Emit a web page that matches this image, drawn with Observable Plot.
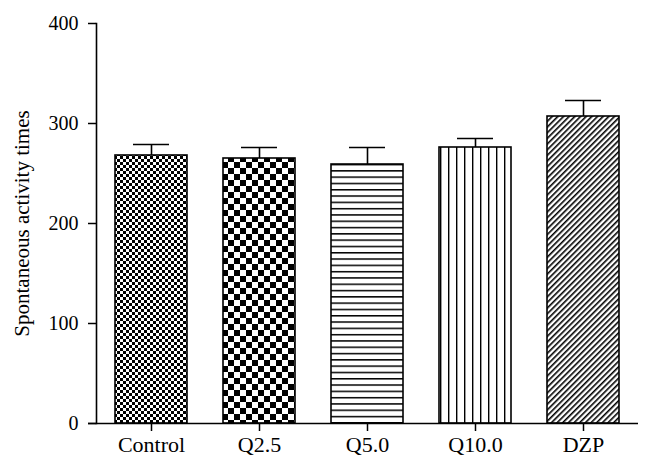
<!DOCTYPE html>
<html><head><meta charset="utf-8">
<script src="https://cdn.jsdelivr.net/npm/d3@7"></script>
<script src="https://cdn.jsdelivr.net/npm/@observablehq/plot@0.6"></script>
<style>body{margin:0;background:#fff}</style>
</head><body><div id="chart"></div>
<script>
const categories = ["Control", "Q2.5", "Q5.0", "Q10.0", "DZP"];
const means = [268, 265, 259, 276, 307];
const errors = [11, 11, 17, 9, 16];
const yTicks = [0, 100, 200, 300, 400];
const yLabel = "Spontaneous activity times";

const data = categories.map((c, i) => ({cat: c, mean: means[i], upper: means[i] + errors[i]}));
const patternFor = {"Control": "url(#pat-fine)", "Q2.5": "url(#pat-coarse)", "Q5.0": "url(#pat-hor)", "Q10.0": "url(#pat-ver)", "DZP": "url(#pat-diag)"};

const font = "'Liberation Serif', 'Times New Roman', serif";
const svg = Plot.plot({
  width: 652,
  height: 473,
  marginLeft: 96,
  marginRight: 14,
  marginTop: 23,
  marginBottom: 50,
  style: {fontFamily: font, fontSize: "20px", color: "black", background: "white"},
  x: {domain: categories, paddingInner: 0.333, paddingOuter: 0.16},
  y: {domain: [0, 400]},
  color: {type: "identity"},
  marks: [
    Plot.barY(data, {x: "cat", y: "mean", fill: d => patternFor[d.cat], stroke: "black", strokeWidth: 1.6}),
    Plot.ruleX(data, {x: "cat", y1: "mean", y2: "upper", stroke: "black", strokeWidth: 1.6}),
    Plot.tickY(data, {x: "cat", y: "upper", insetLeft: 18, insetRight: 18, stroke: "black", strokeWidth: 1.6}),
    Plot.axisY({ticks: yTicks, tickSize: 8, tickPadding: 10, label: null, fontSize: 20, strokeWidth: 1.5}),
    Plot.axisX({tickSize: 8, tickPadding: 5, label: null, fontSize: 22, strokeWidth: 1.5}),
    Plot.frame({anchor: "left", strokeWidth: 1.6}),
    Plot.ruleY([0], {insetLeft: -8, strokeWidth: 1.6}),
    Plot.text([yLabel], {frameAnchor: "left", textAnchor: "middle", dx: -74, rotate: -90, fontSize: 21, fill: "black"})
  ]
});

const defs = d3.select(svg).insert("defs", ":first-child");
function pat(id, w, h) {
  const p = defs.append("pattern").attr("id", id).attr("patternUnits", "userSpaceOnUse").attr("width", w).attr("height", h);
  p.append("rect").attr("width", w).attr("height", h).attr("fill", "white");
  return p;
}
let p = pat("pat-fine", 6, 6);
p.append("rect").attr("width", 3).attr("height", 3).attr("fill", "black");
p.append("rect").attr("x", 3).attr("y", 3).attr("width", 3).attr("height", 3).attr("fill", "black");
p = pat("pat-coarse", 12, 12);
p.append("rect").attr("width", 6).attr("height", 6).attr("fill", "black");
p.append("rect").attr("x", 6).attr("y", 6).attr("width", 6).attr("height", 6).attr("fill", "black");
p = pat("pat-hor", 10, 6.3);
p.append("rect").attr("width", 10).attr("height", 1.5).attr("fill", "black");
p = pat("pat-ver", 8, 10);
p.append("rect").attr("width", 1.4).attr("height", 10).attr("fill", "black");
p = pat("pat-diag", 4, 4).attr("patternTransform", "rotate(45)");
p.append("rect").attr("width", 1.6).attr("height", 4).attr("fill", "black");

document.getElementById("chart").appendChild(svg);
</script>
</body></html>
